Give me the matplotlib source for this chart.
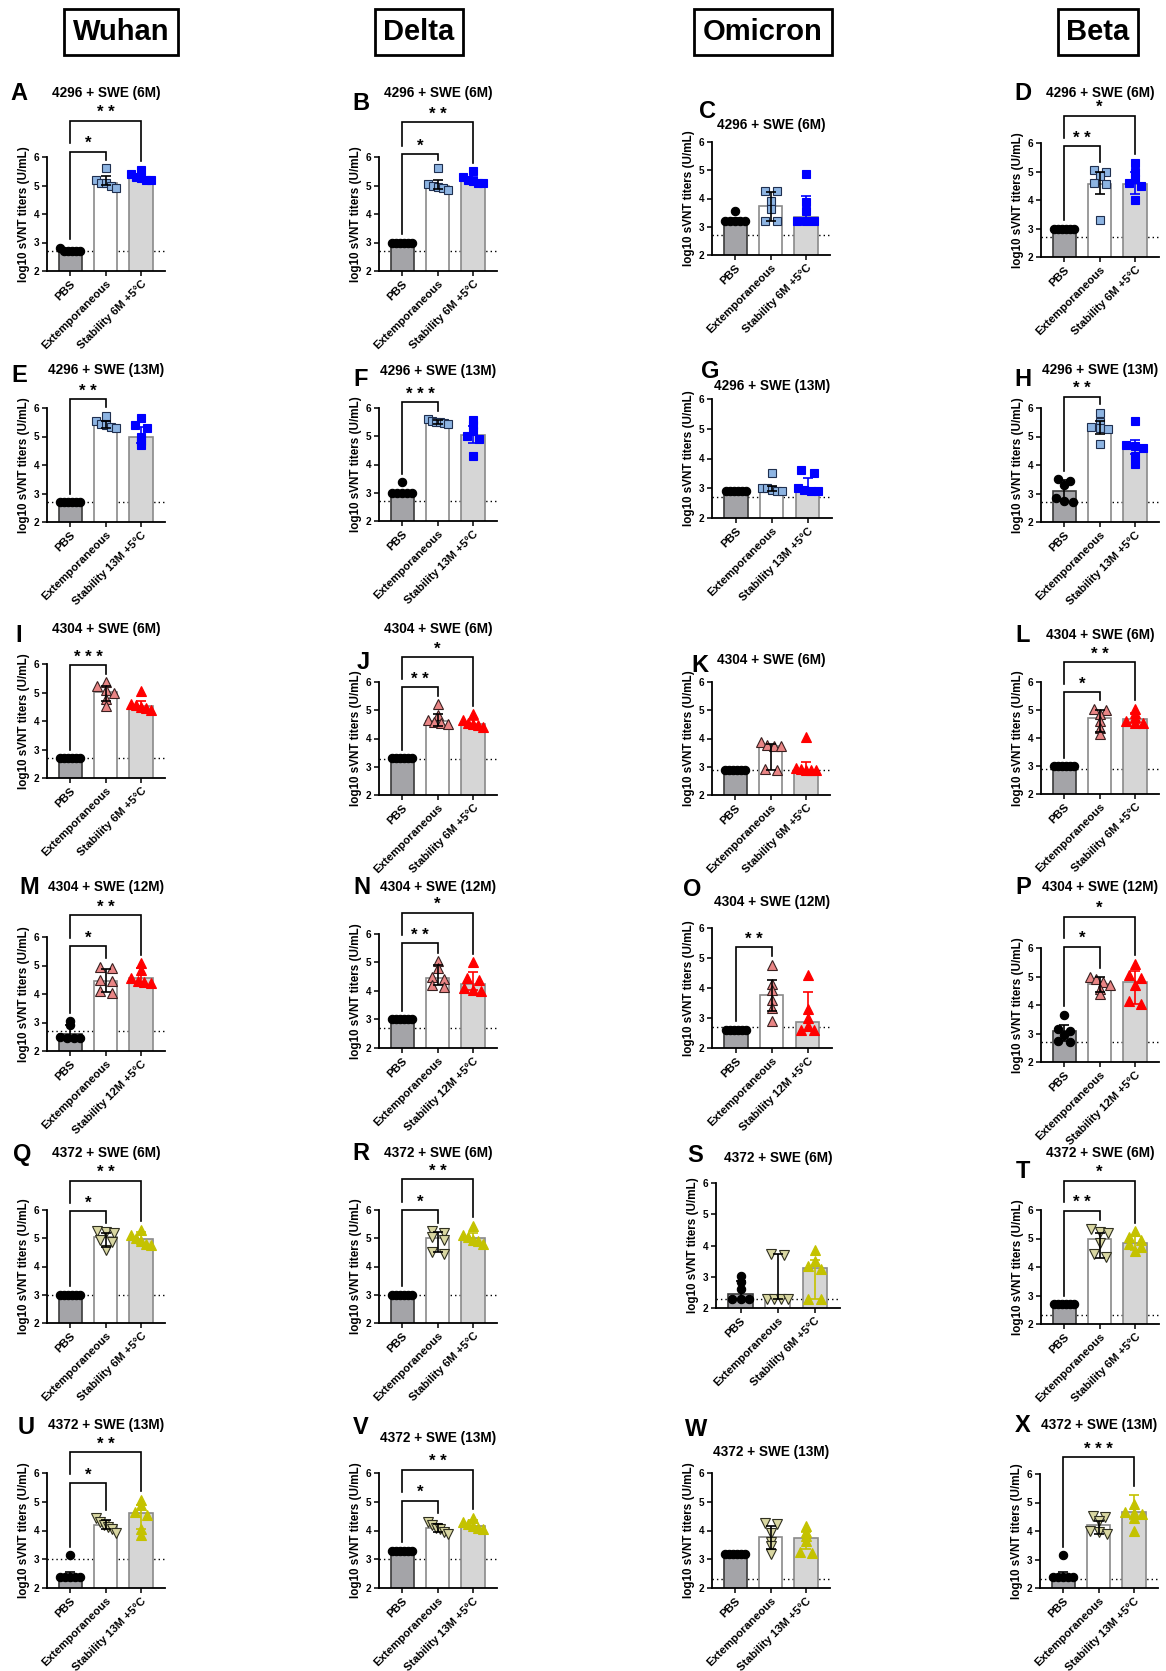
import numpy as np
import matplotlib.pyplot as plt

plt.rcParams['font.family'] = ['Liberation Sans', 'DejaVu Sans']
plt.rcParams['font.weight'] = 'bold'
plt.rcParams['axes.labelweight'] = 'bold'

W, H = 1166, 1671

# ---------------------------------------------------------------- data
VARIANTS = ['Wuhan', 'Delta', 'Omicron', 'Beta']
LETTERS = list('ABCDEFGHIJKLMNOPQRSTUVWX')
ROW_TITLES = ['4296 + SWE (6M)', '4296 + SWE (13M)', '4304 + SWE (6M)',
              '4304 + SWE (12M)', '4372 + SWE (6M)', '4372 + SWE (13M)']
ROW_STAB = ['Stability 6M +5°C', 'Stability 13M +5°C', 'Stability 6M +5°C',
            'Stability 12M +5°C', 'Stability 6M +5°C', 'Stability 13M +5°C']
ROW_VACCINE = ['4296', '4296', '4304', '4304', '4372', '4372']
YLABEL = 'log10 sVNT titers (U/mL)'

PBS_PTS = [
    [2.82, 2.7, 2.7, 2.7, 2.7, 2.7], [3.0] * 6, [3.55, 3.2, 3.2, 3.2, 3.2, 3.2], [3.0] * 6,
    [2.7] * 6, [3.38, 3.0, 3.0, 3.0, 3.0, 3.0], [2.9] * 6, [3.5, 3.45, 3.3, 2.85, 2.75, 2.7],
    [2.7] * 6, [3.3] * 6, [2.9] * 6, [3.0] * 6,
    [3.05, 2.9, 2.5, 2.45, 2.45, 2.45], [3.0] * 6, [2.6] * 6, [3.65, 3.15, 3.1, 2.95, 2.75, 2.7],
    [3.0] * 6, [3.0] * 6, [3.02, 2.84, 2.6, 2.3, 2.3, 2.3], [2.7] * 6,
    [3.14, 2.4, 2.4, 2.4, 2.4, 2.4], [3.3] * 6, [3.2] * 6, [3.15, 2.4, 2.4, 2.4, 2.4, 2.4],
]
EXT_PTS = [
    [5.6, 5.2, 5.1, 5.1, 5.0, 4.92], [5.6, 5.05, 5.0, 4.95, 4.9, 4.85],
    [4.25, 4.25, 3.9, 3.64, 3.2, 3.2], [5.05, 5.0, 4.85, 4.6, 4.55, 3.3],
    [5.72, 5.55, 5.45, 5.4, 5.35, 5.3], [5.6, 5.55, 5.5, 5.5, 5.48, 5.45],
    [3.52, 3.0, 3.0, 2.95, 2.9, 2.9], [5.84, 5.5, 5.35, 5.3, 5.25, 4.75],
    [5.36, 5.22, 5.1, 4.98, 4.78, 4.51], [5.22, 4.82, 4.65, 4.6, 4.55, 4.5],
    [3.86, 3.78, 3.75, 3.72, 2.92, 2.88], [5.05, 5.0, 4.85, 4.6, 4.35, 4.15],
    [4.95, 4.92, 4.5, 4.45, 4.1, 4.05], [5.05, 4.8, 4.5, 4.42, 4.2, 4.15],
    [4.76, 4.15, 3.95, 3.6, 3.35, 2.9], [5.0, 4.92, 4.8, 4.7, 4.55, 4.4],
    [5.25, 5.22, 5.2, 4.95, 4.85, 4.6], [5.25, 5.2, 5.05, 4.95, 4.5, 4.45],
    [3.72, 3.7, 2.3, 2.3, 2.3, 2.3], [5.35, 5.22, 5.2, 4.85, 4.45, 4.35],
    [4.42, 4.3, 4.2, 4.12, 4.05, 3.92], [4.3, 4.2, 4.1, 4.05, 3.95, 3.88],
    [4.25, 4.22, 3.9, 3.6, 3.45, 3.18], [4.52, 4.48, 4.35, 4.0, 3.95, 3.88],
]
STAB_PTS = [
    [5.55, 5.4, 5.3, 5.25, 5.2, 5.2], [5.5, 5.3, 5.2, 5.15, 5.1, 5.1],
    [4.88, 3.86, 3.56, 3.2, 3.2, 3.2], [5.3, 5.0, 4.75, 4.6, 4.5, 4.0],
    [5.65, 5.4, 5.3, 5.0, 4.85, 4.7], [5.57, 5.4, 5.2, 5.0, 4.9, 4.3],
    [3.6, 3.5, 3.0, 2.95, 2.9, 2.9], [5.53, 4.7, 4.65, 4.6, 4.3, 4.05],
    [5.04, 4.6, 4.55, 4.5, 4.45, 4.4], [4.86, 4.65, 4.55, 4.5, 4.48, 4.42],
    [4.07, 2.95, 2.92, 2.9, 2.88, 2.88], [5.05, 4.9, 4.75, 4.6, 4.55, 4.55],
    [5.08, 4.85, 4.55, 4.45, 4.42, 4.38], [5.0, 4.45, 4.38, 4.1, 4.02, 4.0],
    [4.44, 3.31, 3.0, 2.75, 2.6, 2.6], [5.45, 5.05, 4.95, 4.7, 4.15, 4.05],
    [5.3, 5.1, 5.0, 4.92, 4.8, 4.75], [5.45, 5.1, 5.05, 4.95, 4.9, 4.8],
    [3.87, 3.49, 3.33, 3.25, 2.3, 2.28], [5.25, 5.05, 4.95, 4.8, 4.7, 4.55],
    [5.07, 4.9, 4.65, 4.55, 4.05, 3.84], [4.45, 4.3, 4.22, 4.15, 4.1, 4.05],
    [4.17, 3.95, 3.8, 3.65, 3.25, 3.22], [4.95, 4.65, 4.62, 4.6, 4.45, 4.0],
]
# bar heights (median) and whisker ends, per panel: PBS, Extemporaneous, Stability
MEDIAN = [
    [2.7, 5.1, 5.27], [3.0, 4.98, 5.17], [3.22, 3.72, 3.36], [3.0, 4.57, 4.57],
    [2.7, 5.42, 5.0], [3.02, 5.5, 5.05], [2.9, 2.99, 3.0], [3.08, 5.35, 4.63],
    [2.7, 5.02, 4.51], [3.3, 4.63, 4.53], [2.9, 3.74, 2.9], [3.0, 4.72, 4.67],
    [2.58, 4.47, 4.55], [3.0, 4.46, 4.24], [2.6, 3.78, 2.87], [3.08, 4.75, 4.8],
    [3.0, 5.05, 4.96], [3.0, 5.0, 5.0], [2.45, 2.4, 3.28], [2.7, 4.97, 4.85],
    [2.4, 4.19, 4.6], [3.3, 4.08, 4.15], [3.2, 3.78, 3.73], [2.4, 4.2, 4.65],
]
ERR_LO = [
    [2.7, 5.02, 5.2], [3.0, 4.88, 5.1], [3.2, 3.2, 3.2], [3.0, 4.2, 4.22],
    [2.7, 5.3, 4.78], [3.0, 5.45, 4.75], [2.9, 2.9, 2.9], [2.72, 5.08, 4.38],
    [2.7, 4.71, 4.45], [3.3, 4.45, 4.45], [2.9, 2.9, 2.88], [3.0, 4.22, 4.55],
    [2.45, 4.08, 4.42], [3.0, 4.2, 4.02], [2.6, 3.23, 2.6], [2.75, 4.45, 4.05],
    [3.0, 4.7, 4.8], [3.0, 4.5, 4.85], [2.3, 2.3, 2.3], [2.7, 4.3, 4.6],
    [2.4, 4.05, 4.05], [3.3, 3.95, 4.08], [3.2, 3.35, 3.35], [2.4, 3.88, 4.42],
]
ERR_HI = [
    [2.72, 5.33, 5.4], [3.0, 5.18, 5.3], [3.3, 4.23, 4.1], [3.0, 4.97, 5.0],
    [2.7, 5.54, 5.35], [3.05, 5.58, 5.38], [2.9, 3.07, 3.33], [3.48, 5.55, 4.89],
    [2.7, 5.22, 4.69], [3.3, 4.86, 4.67], [2.9, 3.8, 3.17], [3.0, 5.0, 4.9],
    [2.9, 4.86, 4.9], [3.0, 4.9, 4.66], [2.6, 4.27, 3.87], [3.3, 4.98, 5.2],
    [3.0, 5.2, 5.22], [3.0, 5.22, 5.2], [2.87, 3.72, 3.55], [2.7, 5.2, 5.1],
    [2.56, 4.35, 4.87], [3.3, 4.22, 4.35], [3.2, 4.15, 3.95], [2.56, 4.35, 5.28],
]
LOD = [2.7, 2.7, 2.7, 2.7, 2.7, 2.7, 2.7, 2.7, 2.7, 3.28, 2.9, 2.9,
       2.7, 2.7, 2.7, 2.7, 3.0, 3.0, 2.3, 2.3, 3.0, 3.0, 2.3, 2.3]
# significance: (group a, group b, stars, bracket height)
SIG = [
    [(0, 1, '*', 6.19), (0, 2, '**', 7.27)], [(0, 1, '*', 6.1), (0, 2, '**', 7.22)], [],
    [(0, 1, '**', 5.88), (0, 2, '*', 6.96)],
    [(0, 1, '**', 6.3)], [(0, 1, '***', 6.2)], [], [(0, 1, '**', 6.4)],
    [(0, 1, '***', 5.95)], [(0, 1, '**', 5.81), (0, 2, '*', 6.88)], [],
    [(0, 1, '*', 5.64), (0, 2, '**', 6.7)],
    [(0, 1, '*', 5.67), (0, 2, '**', 6.76)], [(0, 1, '**', 5.67), (0, 2, '*', 6.75)],
    [(0, 1, '**', 5.36)], [(0, 1, '*', 6.05), (0, 2, '*', 7.1)],
    [(0, 1, '*', 5.96), (0, 2, '**', 7.03)], [(0, 1, '*', 6.0), (0, 2, '**', 7.08)], [],
    [(0, 1, '**', 5.97), (0, 2, '*', 7.03)],
    [(0, 1, '*', 5.65), (0, 2, '**', 6.72)], [(0, 1, '*', 5.04), (0, 2, '**', 6.12)], [],
    [(0, 2, '***', 6.58)],
]

# ---------------------------------------------------------------- layout (pixels)
# left, y of tick 6, y of tick 2, width
AX_BOX = [
    (47, 157, 271, 118), (379, 157, 271, 118), (712, 142, 255, 118), (1041, 143, 257, 118),
    (47, 408, 522, 118), (379, 408, 521, 118), (712, 399, 518, 120), (1041, 408, 522, 118),
    (47, 664, 778, 118), (379, 682, 795, 118), (712, 682, 795, 118), (1041, 682, 794, 118),
    (47, 937, 1051, 118), (379, 934, 1048, 118), (712, 928, 1048, 120), (1041, 948, 1062, 118),
    (47, 1210, 1323, 118), (379, 1210, 1323, 118), (716, 1183, 1308, 124), (1041, 1210, 1324, 118),
    (47, 1473, 1588, 118), (379, 1473, 1588, 118), (712, 1473, 1588, 118), (1040, 1474, 1588, 118),
]
TITLE_Y = [93, 93, 125, 93, 370, 371, 386, 370, 629, 629, 660, 635,
           887, 887, 902, 887, 1153, 1153, 1158, 1153, 1425, 1438, 1452, 1425]
LETTER_XY = [(19, 94), (361, 103), (708, 111), (1023, 94),
             (19, 375), (361, 380), (710, 372), (1023, 379),
             (19, 636), (363, 662), (700, 665), (1023, 635),
             (29, 888), (362, 888), (692, 889), (1023, 888),
             (22, 1154), (361, 1154), (695, 1156), (1023, 1171),
             (26, 1427), (361, 1427), (696, 1429), (1023, 1425)]
HEADER_XY = [(121, 32), (419, 32), (763, 32), (1098, 32)]

EXT_STYLE = {'4296': dict(marker='s', mfc='#8db4e2', mec='#1f2f4f', ms=6.0),
             '4304': dict(marker='^', mfc='#e98585', mec='#3a2020', ms=6.6),
             '4372': dict(marker='v', mfc='#d9d7a2', mec='#303020', ms=6.6)}
STAB_STYLE = {'4296': dict(marker='s', mfc='#0000ff', mec='#0000ff', ms=6.0),
              '4304': dict(marker='^', mfc='#ff0000', mec='#ff0000', ms=6.6),
              '4372': dict(marker='^', mfc='#c4c200', mec='#c4c200', ms=6.6)}
BAR_FACE = ['#a4a4a8', 'white', '#d6d6d6']
BAR_EDGE = ['#3c3c3c', '#8a8a8a', '#8a8a8a']


def swarm(vals, tol=0.13):
    vals = np.asarray(vals, float)
    order = np.argsort(-vals)
    offs = np.zeros(len(vals))
    clusters, cur = [], [order[0]]
    for i in order[1:]:
        if vals[cur[-1]] - vals[i] <= tol:
            cur.append(i)
        else:
            clusters.append(cur)
            cur = [i]
    clusters.append(cur)
    for c in clusters:
        k = len(c)
        if k == 1:
            o = [0.0]
        elif k == 2:
            o = [-0.17, 0.17]
        elif k == 3:
            o = [-0.24, 0.0, 0.24]
        else:
            o = np.linspace(-0.28, 0.28, k)
        for idx, off in zip(c, o):
            offs[idx] = off
    return offs


fig = plt.figure(figsize=(W / 100, H / 100), dpi=100)

for name, (hx, hy) in zip(VARIANTS, HEADER_XY):
    fig.text(hx / W, 1 - hy / H, name, ha='center', va='center', fontsize=21,
             fontweight='bold',
             bbox=dict(boxstyle='square,pad=0.3', fc='white', ec='black', lw=2))

for p in range(24):
    row = p // 4
    vac = ROW_VACCINE[row]
    left, y6, y2, wid = AX_BOX[p]
    ax = fig.add_axes([left / W, 1 - y2 / H, wid / W, (y2 - y6) / H])
    ax.set_ylim(2, 6)
    ax.set_xlim(-0.66, 2.68)

    groups = [PBS_PTS[p], EXT_PTS[p], STAB_PTS[p]]
    ax.axhline(LOD[p], color='black', lw=1.0, ls=(0, (1, 2.2)), zorder=1)
    ax.bar([0, 1, 2], MEDIAN[p], width=0.66, color=BAR_FACE, edgecolor=BAR_EDGE,
           linewidth=1.2, zorder=2)

    styles = [dict(marker='o', mfc='black', mec='black', ms=6.0),
              EXT_STYLE[vac], STAB_STYLE[vac]]
    err_cols = ['black', 'black', STAB_STYLE[vac]['mfc']]
    for g in range(3):
        xs = g + swarm(groups[g])
        ax.plot(xs, groups[g], ls='none', mew=0.8, zorder=3, clip_on=False, **styles[g])
        m, lo, hi = MEDIAN[p][g], ERR_LO[p][g], ERR_HI[p][g]
        if hi - lo > 0.02:
            ax.errorbar([g], [m], yerr=[[m - lo], [hi - m]], fmt='none',
                        ecolor=err_cols[g], elinewidth=1.2, capsize=3.5,
                        capthick=1.2, zorder=4)

    # significance brackets
    tops = [max(max(groups[g]), ERR_HI[p][g]) for g in range(3)]
    done = []
    for a, b, stars, yb in SIG[p]:
        ends = []
        for g in (a, b):
            floor = tops[g] + 0.3
            for (pa, pb, py) in done:
                if g in (pa, pb) and py < yb:
                    floor = max(floor, py + 0.3)
            ends.append(floor)
        ax.plot([a, a, b, b], [ends[0], yb, yb, ends[1]], color='black', lw=1.2,
                clip_on=False, solid_joinstyle='miter', zorder=5)
        ax.text((a + b) / 2, yb + 0.02, ' '.join(stars), ha='center', va='bottom',
                fontsize=12, fontweight='bold', clip_on=False)
        done.append((a, b, yb))

    for s in ('top', 'right'):
        ax.spines[s].set_visible(False)
    for s in ('left', 'bottom'):
        ax.spines[s].set_linewidth(1.3)
    ax.set_yticks([2, 3, 4, 5, 6])
    ax.set_xticks([0, 1, 2])
    ax.set_xticklabels(['PBS', 'Extemporaneous', ROW_STAB[row]], rotation=45,
                       ha='right', rotation_mode='anchor', fontsize=8.2,
                       fontweight='bold')
    ax.tick_params(axis='both', length=3.5, width=1.1, labelsize=7.2, pad=2)
    ax.tick_params(axis='x', labelsize=8.2)
    for t in ax.get_yticklabels():
        t.set_fontweight('bold')
    ax.set_ylabel(YLABEL, fontsize=8.4, fontweight='bold', labelpad=3)

    fig.text((left + wid / 2) / W, 1 - TITLE_Y[p] / H, ROW_TITLES[row], ha='center',
             va='center', fontsize=9.8, fontweight='bold')
    lx, ly = LETTER_XY[p]
    fig.text(lx / W, 1 - ly / H, LETTERS[p], ha='center', va='center', fontsize=17,
             fontweight='bold')

fig.savefig('out.png', dpi=100)
